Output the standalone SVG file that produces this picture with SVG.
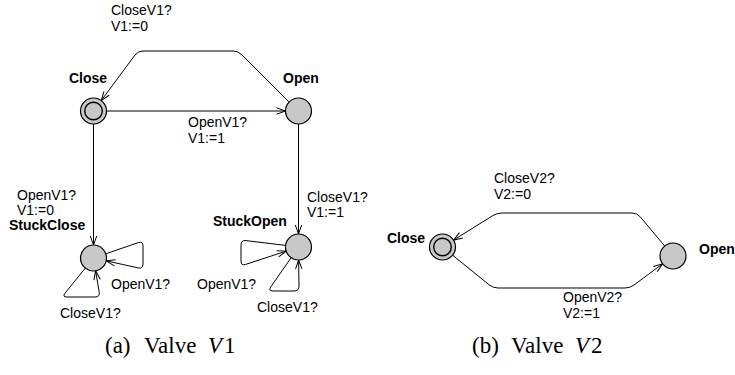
<svg xmlns="http://www.w3.org/2000/svg" width="735" height="375" viewBox="0 0 735 375">
<defs>
<marker id="arr" markerUnits="userSpaceOnUse" markerWidth="14" markerHeight="10" viewBox="-11 -5 12 10" refX="0" refY="0" orient="auto">
<path d="M-9,-3.2 L0,0 L-9,3.2" fill="none" stroke="#000" stroke-width="1"/>
</marker>
</defs>
<style>
.loc{fill:#c8c8c8;stroke:#000;stroke-width:1.2}
.inner{fill:none;stroke:#000;stroke-width:1.4}
.e{fill:none;stroke:#000;stroke-width:1;marker-end:url(#arr)}
.lbl{font-family:"Liberation Sans",Arial,sans-serif;font-size:14px;fill:#000}
.name{font-family:"Liberation Sans",Arial,sans-serif;font-size:14px;font-weight:bold;fill:#000}
.cap{font-family:"Liberation Serif","Times New Roman",serif;font-size:23px;fill:#000}
</style>
<g id="connectors">
<path class="e" d="M288.8,101.8 L241.5,54.5 Q238,51 233,51 L143,51 Q138,51 135,55 L101.2,100.6"/>
<path class="e" d="M106.5,111 L285.5,111"/>
<path class="e" d="M93.5,124 L93.5,245"/>
<path class="e" d="M298.5,124 L298.5,234"/>
<path class="e" d="M105.8,253.8 L138.3,242.6 Q143,241 143,246 L143,264 Q143,269 138.1,267.9 L106.2,260.8"/>
<path class="e" d="M85.3,268.1 L65.1,293.1 Q62,297 67,297 L95,297 Q100,297 99.2,292.1 L95.6,270.8"/>
<path class="e" d="M285.6,245.4 L246,240.6 Q241,240 241,245 L241,261 Q241,266 245.7,264.4 L286.2,251.1"/>
<path class="e" d="M291.1,257.7 L270.8,286.9 Q268,291 273,291 L294,291 Q299,291 299,286 L298.6,260"/>
<path class="e" d="M664.7,246 L640.2,216.8 Q637,213 632,213 L502,213 Q497,213 492.8,215.6 L453.5,240.1"/>
<path class="e" d="M452.6,255.2 L489.1,284.8 Q493,288 498,288 L625,288 Q630,288 634,285 L662.6,263.8"/>
</g>
<g id="v1-close">
<circle class="loc" cx="93.5" cy="111" r="13"/>
<circle class="inner" cx="93.5" cy="111" r="8.8"/>
<text class="name" x="69" y="83">Close</text>
</g>
<g id="v1-open">
<circle class="loc" cx="298.5" cy="111" r="13"/>
<text class="name" x="283" y="83">Open</text>
</g>
<g id="v1-stuckclose">
<circle class="loc" cx="93.5" cy="258" r="13"/>
<text class="name" x="9" y="230">StuckClose</text>
</g>
<g id="v1-stuckopen">
<circle class="loc" cx="298.5" cy="247" r="13"/>
<text class="name" x="213" y="226">StuckOpen</text>
</g>
<g id="v2-close">
<circle class="loc" cx="442.5" cy="247" r="13"/>
<circle class="inner" cx="442.5" cy="247" r="8.8"/>
<text class="name" x="387" y="243">Close</text>
</g>
<g id="v2-open">
<circle class="loc" cx="673" cy="256" r="13"/>
<text class="name" x="699" y="254">Open</text>
</g>
<g id="edge-labels">
<text class="lbl" x="111" y="15">CloseV1?</text>
<text class="lbl" x="111" y="31">V1:=0</text>
<text class="lbl" x="188" y="127">OpenV1?</text>
<text class="lbl" x="188" y="143">V1:=1</text>
<text class="lbl" x="17" y="200">OpenV1?</text>
<text class="lbl" x="17" y="215">V1:=0</text>
<text class="lbl" x="307" y="202">CloseV1?</text>
<text class="lbl" x="307" y="217">V1:=1</text>
<text class="lbl" x="111" y="289">OpenV1?</text>
<text class="lbl" x="60" y="318">CloseV1?</text>
<text class="lbl" x="197" y="289">OpenV1?</text>
<text class="lbl" x="257" y="312">CloseV1?</text>
<text class="lbl" x="494" y="183">CloseV2?</text>
<text class="lbl" x="494" y="199">V2:=0</text>
<text class="lbl" x="563" y="302">OpenV2?</text>
<text class="lbl" x="563" y="318">V2:=1</text>
</g>
<g id="captions">
<text class="cap" y="353"><tspan x="105">(a)</tspan><tspan x="144">Valve</tspan><tspan x="208" font-style="italic">V</tspan><tspan x="224">1</tspan></text>
<text class="cap" y="353"><tspan x="472">(b)</tspan><tspan x="511">Valve</tspan><tspan x="575" font-style="italic">V</tspan><tspan x="591">2</tspan></text>
</g>
</svg>
